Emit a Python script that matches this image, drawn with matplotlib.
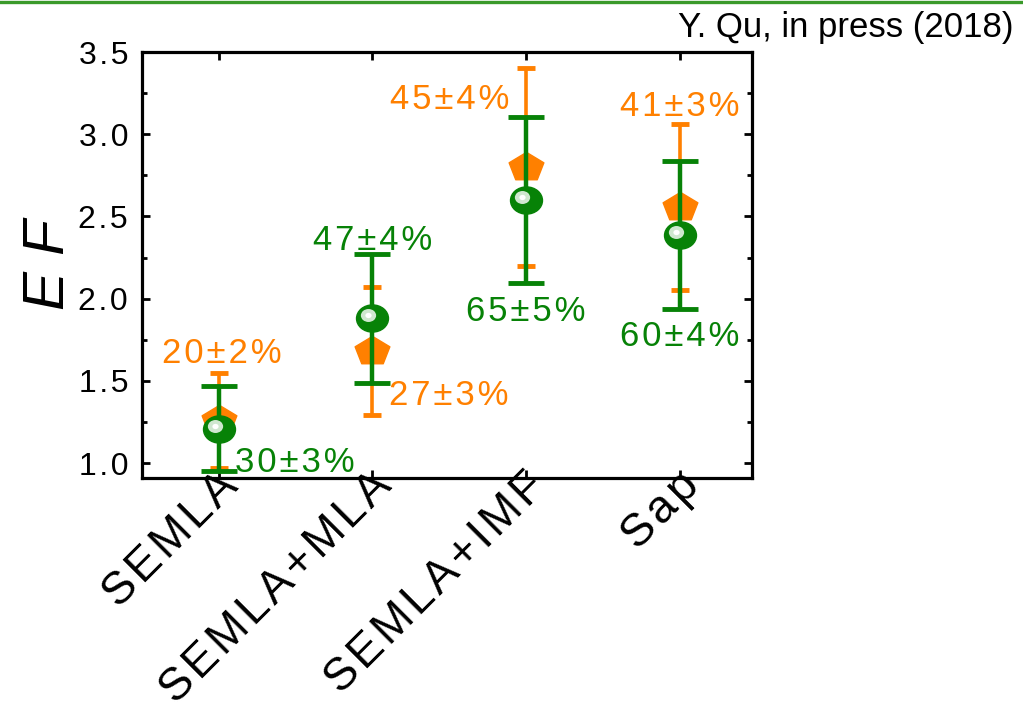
import numpy as np
import matplotlib
matplotlib.use('Agg')
import matplotlib.pyplot as plt
from matplotlib.path import Path
from matplotlib.transforms import Affine2D, offset_copy
from matplotlib.lines import Line2D
from matplotlib.ticker import MultipleLocator

plt.rcParams['font.family'] = ['Liberation Sans', 'DejaVu Sans']

# data
categories = ['SEMLA', 'SEMLA+MLA', 'SEMLA+IMF', 'Sap']
ef_orange = [1.26, 1.68, 2.80, 2.555]
err_orange = [0.29, 0.39, 0.60, 0.505]
ef_green = [1.21, 1.88, 2.60, 2.39]
err_green = [0.26, 0.39, 0.505, 0.45]
labels_orange = ['20±2%', '27±3%', '45±4%', '41±3%']
labels_green = ['30±3%', '47±4%', '65±5%', '60±4%']
yticks = [1.0, 1.5, 2.0, 2.5, 3.0, 3.5]

ORANGE = '#FF8000'
GREEN = '#078207'


def spaced(s):
    return '\u200a'.join(s)


# label placement: (which end of the bar, dx px, dy px, ha)
place_orange = [(+1, 3, 23, 'center'), (-1, 17, 23, 'left'),
                (+1, -17, -28, 'right'), (+1, 0, 21, 'center')]
place_green = [(-1, 16, 12, 'left'), (+1, 0, 17, 'center'),
               (-1, 0, -25, 'center'), (-1, 0, -24, 'center')]

fig = plt.figure(figsize=(10.23, 7.06), dpi=100)
ax = fig.add_axes([142 / 1023, 1 - 478 / 706, 610 / 1023, 426 / 706])

x = np.arange(1, len(categories) + 1)

# marker shapes (slightly flattened like the original)
ell = Path.unit_circle().transformed(Affine2D().scale(1.0, 0.85))
ang = np.deg2rad(90 + 72 * np.arange(5))
pverts = np.column_stack([np.cos(ang), np.sin(ang) * 0.83])
pent = Path(np.vstack([pverts, pverts[:1]]), closed=True)

ax.errorbar(x, ef_orange, yerr=err_orange, fmt='none', ecolor=ORANGE,
            elinewidth=2.6, capsize=6.5, capthick=3.5, zorder=2)
ax.plot(x, ef_orange, ls='none', marker=pent, ms=25, color=ORANGE,
        mec=ORANGE, zorder=3)
ax.errorbar(x, ef_green, yerr=err_green, fmt='none', ecolor=GREEN,
            elinewidth=3.2, capsize=13, capthick=3.5, zorder=4)
ax.plot(x, ef_green, ls='none', marker=ell, ms=23, color=GREEN,
        mec=GREEN, zorder=5)
# glossy highlight
hl = offset_copy(ax.transData, fig=fig, x=-4, y=3, units='dots')
ax.plot(x, ef_green, ls='none', marker=ell, ms=11, color='#cfe7cf',
        mec='none', transform=hl, zorder=6)
ax.plot(x, ef_green, ls='none', marker=ell, ms=4.5, color='white',
        mec='none', transform=hl, zorder=7)

for i in range(len(categories)):
    for vals, errs, labs, plc, col in [(ef_orange, err_orange, labels_orange, place_orange, ORANGE),
                                       (ef_green, err_green, labels_green, place_green, GREEN)]:
        end, dx, dy, ha = plc[i]
        ax.annotate(spaced(labs[i]), (x[i], vals[i] + end * errs[i]),
                    xytext=(dx, dy), textcoords='offset pixels',
                    ha=ha, va='center_baseline', fontsize=25, color=col, zorder=8)

ax.set_xlim(0.5, 4.47)
ax.set_ylim(0.91, 3.5)
ax.set_xticks(x)
ax.set_xticklabels([spaced(c) for c in categories], rotation=45, ha='right',
                   va='top', rotation_mode='anchor', fontsize=33)
ax.set_yticks(yticks)
ax.set_yticklabels([spaced(f'{v:.1f}') for v in yticks], fontsize=23)
ax.yaxis.set_minor_locator(MultipleLocator(0.25))

for s in ax.spines.values():
    s.set_linewidth(2.3)
ax.tick_params(axis='both', which='both', direction='in', top=True, right=True)
ax.tick_params(axis='y', which='major', length=6, width=2, pad=10)
ax.tick_params(axis='y', which='minor', length=3.5, width=2)
ax.tick_params(axis='x', which='major', length=6, width=2, pad=-10)
for lab in ax.get_xticklabels():
    lab.set_transform(lab.get_transform() + Affine2D().translate(-3, 0))

ax.set_ylabel('E F', fontsize=42, style='italic', labelpad=2)

fig.text(1013 / 1023, 1 - 28 / 706, 'Y. Qu, in press (2018)', ha='right',
         va='center', fontsize=25)
fig.add_artist(Line2D([0, 1], [1 - 1.5 / 706, 1 - 1.5 / 706],
                      transform=fig.transFigure, color='#3a9a2a', lw=2.4))

fig.savefig('out.png', dpi=100)
